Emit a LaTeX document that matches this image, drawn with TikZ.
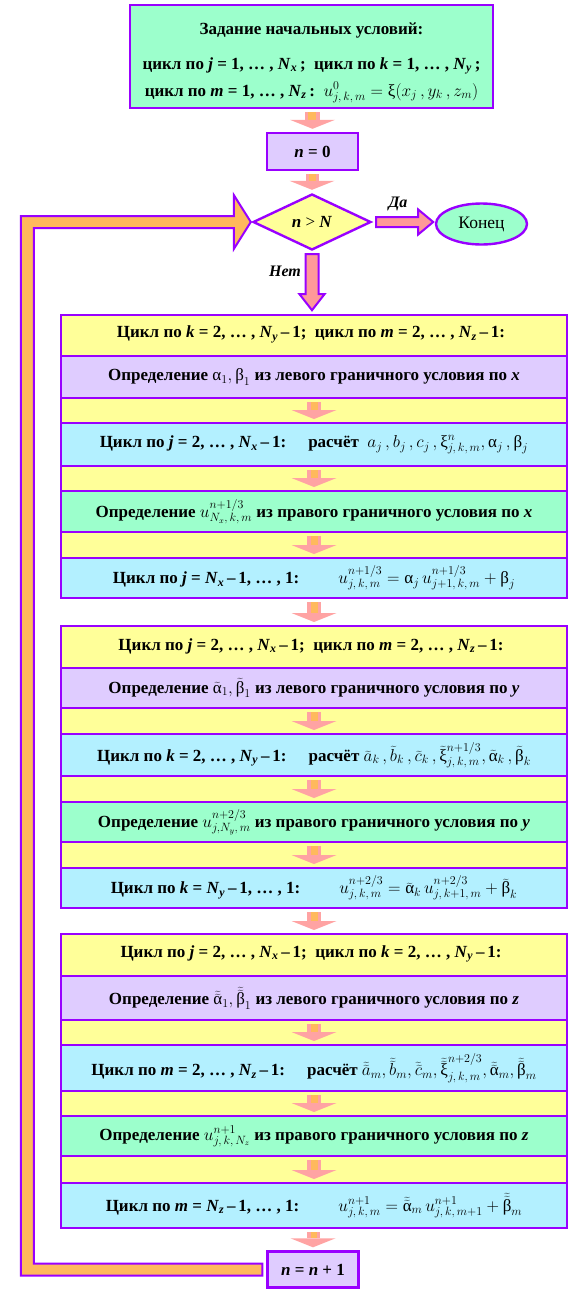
\documentclass[tikz,border=0pt]{standalone}
\usepackage{fontspec}
\setmainfont{Liberation Serif}
\usetikzlibrary{arrows.meta, positioning, shapes.geometric, calc}
\definecolor{vio}{HTML}{9900FF}
\definecolor{mint}{HTML}{9CFFCC}
\definecolor{lav}{HTML}{DFCCFF}
\definecolor{lemon}{HTML}{FFFF99}
\definecolor{sky}{HTML}{B3F0FF}
\definecolor{orng}{HTML}{FFB95C}
\definecolor{pnk}{HTML}{FF9999}
\definecolor{pnklt}{HTML}{FFA3A3}
\newcommand\ua{\mbox{\normalfont α}}
\newcommand\ub{\mbox{\normalfont β}}
\newcommand\ux{\mbox{\normalfont ξ}}
\newcommand\tild[1]{\widetilde{#1}}
\newcommand\ttild[1]{\widetilde{\widetilde{#1}}}
\newcommand\Nx{\textit{N}\textsubscript{\textit{x}}}
\newcommand\Ny{\textit{N}\textsubscript{\textit{y}}}
\newcommand\Nz{\textit{N}\textsubscript{\textit{z}}}
\newcommand\rowfont{\fontsize{17}{20}\selectfont\bfseries}
% small pink step arrow between two nodes
\newcommand\stepdown[2]{%
  \path (#1.south) ++(0,3) coordinate (sa) (#2.north) ++(0,-3) coordinate (sb);
  \fill[pnklt] ($(sa)+(-7,0)$) rectangle ($(sb)+(7,-9)$);
  \fill[orng] ($(sa)+(-3.5,0)$) rectangle ($(sb)+(3.5,-9)$);
  \fill[pnklt] ($(sb)+(-22.5,-9)$) -- ($(sb)+(22.5,-9)$) -- (sb) -- cycle;
}

\begin{document}
\begin{tikzpicture}[
    x=1pt, y=-1pt,
    box/.style={draw=vio, line width=2.4pt, fill=#1, inner sep=0pt, font=\rowfont, align=center},
    row/.style={draw=vio, line width=2pt, fill=#1, inner sep=0pt, minimum width=506pt, anchor=north west, font=\rowfont},
    blk/.style={draw=vio, line width=2pt, fill=lemon, minimum width=506pt, anchor=north west, inner sep=0pt},
    hdr/.style={font=\rowfont},
    fatarr/.style={draw=vio, line width=2pt, fill=pnk, line join=miter},
    loopbar/.style={draw=vio, line width=2pt, fill=orng, line join=miter},
    tag/.style={font=\fontsize{16}{18}\selectfont\bfseries\itshape},
]
\useasboundingbox (0,0) rectangle (583,1299);

% start
\node[box=mint, minimum width=363pt, minimum height=103pt, font=\fontsize{17}{27}\selectfont\bfseries] (init) at (311.5,56.5)
  {\rule{0pt}{24pt}Задание начальных условий:\\[8pt]
   цикл по \textit{j} = 1, … , \Nx\,;\ \ цикл по \textit{k} = 1, … , \Ny\,;\\
   цикл по \textit{m} = 1, … , \Nz\,:\ \ $u^{0}_{j,\,k,\,m} = \ux(x_j\,, y_k\,, z_m)$};
\node[box=lav, minimum width=91pt, minimum height=37pt] (n0) at (312.5,151.5) {\textit{n} = 0};
\node[box=lemon, diamond, minimum width=118pt, minimum height=56pt] (dec) at (312,222) {\textit{n} {\mdseries >} \textit{N}};
\node[box=mint, ellipse, minimum width=91pt, minimum height=41pt, font=\fontsize{17.5}{20}\selectfont] (end) at (481.5,224) {Конец};
\stepdown{init}{n0}
\stepdown{n0}{dec}

% yes / no
\draw[fatarr] ([shift={(4,-5)}]dec.east) -- ([shift={(46,-5)}]dec.east) -- ([shift={(46,-12.5)}]dec.east)
  -- ([shift={(61,0)}]dec.east) -- ([shift={(46,12.5)}]dec.east) -- ([shift={(46,5)}]dec.east)
  -- ([shift={(4,5)}]dec.east) -- cycle;
\node[tag] (yes) at (398,204) {Да};
\draw[fatarr] ([shift={(-6.5,3)}]dec.south) -- ([shift={(6.5,3)}]dec.south) -- ([shift={(6.5,43)}]dec.south)
  -- ([shift={(12.5,43)}]dec.south) -- ([shift={(0,59)}]dec.south) -- ([shift={(-12.5,43)}]dec.south)
  -- ([shift={(-6.5,43)}]dec.south) -- cycle;
\node[tag] (no) at (285,271) {Нет};

% sweep in x
\node[blk, minimum height=283pt] (bgx) at (60,314) {};
\node[hdr] (hx) at (311,334.5) {Цикл по \textit{k} = 2, … , \Ny\,–\,1;\ \ цикл по \textit{m} = 2, … , \Nz\,–\,1:};
\node[row=lav, minimum height=42pt] (lx) at (60,355) {Определение\ $\ua_1, \ub_1$\ из левого граничного условия по \textit{x}};
\node[row=sky, minimum height=43pt] (sx) at (60,422) {Цикл по \textit{j} = 2, … , \Nx\,–\,1:\hspace{1.3em}расчёт\ \ $a_j\,, b_j\,, c_j\,, \ux^{n}_{j,\,k,\,m}, \ua_j\,, \ub_j$};
\node[row=mint, minimum height=41pt] (rx) at (60,490) {Определение\ $u^{n+1/3}_{N_x,\,k,\,m}$\ из правого граничного условия по \textit{x}};
\node[row=sky, minimum height=40pt] (bx) at (60,557) {Цикл по \textit{j} = \Nx\,–\,1, … , 1:\hspace{2.3em}$u^{n+1/3}_{j,\,k,\,m} = \ua_j\, u^{n+1/3}_{j+1,\,k,\,m} + \ub_j$};
\stepdown{lx}{sx}
\stepdown{sx}{rx}
\stepdown{rx}{bx}

% sweep in y
\node[blk, minimum height=282pt] (bgy) at (60,625) {};
\node[hdr] (hy) at (311,646) {Цикл по \textit{j} = 2, … , \Nx\,–\,1;\ \ цикл по \textit{m} = 2, … , \Nz\,–\,1:};
\node[row=lav, minimum height=40pt] (ly) at (60,667) {Определение\ $\tild{\ua}_1, \tild{\ub}_1$\ из левого граничного условия по \textit{y}};
\node[row=sky, minimum height=42pt] (sy) at (60,733) {Цикл по \textit{k} = 2, … , \Ny\,–\,1:\hspace{1.3em}расчёт $\tild{a}_k\,, \tild{b}_k\,, \tild{c}_k\,, \tild{\ux}^{n+1/3}_{j,\,k,\,m}, \tild{\ua}_k\,, \tild{\ub}_k$};
\node[row=mint, minimum height=40pt] (ry) at (60,801) {Определение\ $u^{n+2/3}_{j,N_y,\,m}$\ из правого граничного условия по \textit{y}};
\node[row=sky, minimum height=40pt] (by) at (60,867) {Цикл по \textit{k} = \Ny\,–\,1, … , 1:\hspace{2.3em}$u^{n+2/3}_{j,\,k,\,m} = \tild{\ua}_k\, u^{n+2/3}_{j,\,k+1,\,m} + \tild{\ub}_k$};
\stepdown{ly}{sy}
\stepdown{sy}{ry}
\stepdown{ry}{by}
\stepdown{bx}{bgy}

% sweep in z
\node[blk, minimum height=294pt] (bgz) at (60,933) {};
\node[hdr] (hz) at (311,954) {Цикл по \textit{j} = 2, … , \Nx\,–\,1;\ \ цикл по \textit{k} = 2, … , \Ny\,–\,1:};
\node[row=lav, minimum height=44pt] (lz) at (60,975) {Определение\ $\ttild{\ua}_1, \ttild{\ub}_1$\ из левого граничного условия по \textit{z}};
\node[row=sky, minimum height=46pt] (sz) at (60,1044) {Цикл по \textit{m} = 2, … , \Nz\,–\,1:\hspace{1.3em}расчёт $\ttild{a}_m, \ttild{b}_m, \ttild{c}_m, \ttild{\ux}^{n+2/3}_{j,\,k,\,m}, \ttild{\ua}_m, \ttild{\ub}_m$};
\node[row=mint, minimum height=40pt] (rz) at (60,1115) {Определение\ $u^{n+1}_{j,\,k,\,N_z}$\ из правого граничного условия по \textit{z}};
\node[row=sky, minimum height=45pt] (bz) at (60,1182) {Цикл по \textit{m} = \Nz\,–\,1, … , 1:\hspace{2.3em}$u^{n+1}_{j,\,k,\,m} = \ttild{\ua}_m\, u^{n+1}_{j,\,k,\,m+1} + \ttild{\ub}_m$};
\stepdown{lz}{sz}
\stepdown{sz}{rz}
\stepdown{rz}{bz}
\stepdown{by}{bgz}

% next step and loop back
\node[box=lav, minimum width=91pt, minimum height=36pt] (nn1) at (313,1269.5) {\textit{n} = \textit{n} + 1};
\stepdown{bz}{nn1}
\coordinate (tip) at ([xshift=-1]dec.west);
\draw[loopbar] ([shift={(-4,6)}]nn1.west) -| ($(tip)+(-230,-6)$) -- ($(tip)+(-17,-6)$) -- ($(tip)+(-17,-27)$)
  -- (tip) -- ($(tip)+(-17,27)$) -- ($(tip)+(-17,6)$) -- ($(tip)+(-217,6)$) |- ([shift={(-4,-6)}]nn1.west) -- cycle;
\end{tikzpicture}
\end{document}
